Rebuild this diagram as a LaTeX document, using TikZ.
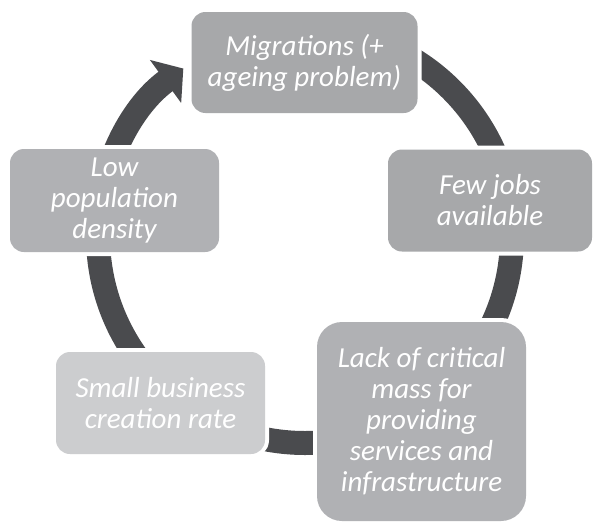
\documentclass[tikz,border=0pt]{standalone}
\usepackage{fontspec}
\usepackage{tikz}
\usetikzlibrary{arrows.meta}
\newfontfamily\cyclefont{Carlito}

\definecolor{ringgray}{RGB}{74,75,78}
\definecolor{midgray}{RGB}{167,168,170}
\definecolor{softgray}{RGB}{176,177,180}
\definecolor{palegray}{RGB}{204,205,207}

\begin{document}
\begin{tikzpicture}[x=1pt, y=1pt,
                    every node/.style={font=\cyclefont\itshape\fontsize{29}{31}\selectfont,
                                       text=white, align=center, inner sep=0pt},
                    box/.style={rounded corners=14pt, fill=midgray,
                                preaction={draw=white, line width=8pt}},
                    ring/.style={draw=ringgray, line width=24pt,
                                 -{Triangle[width=52pt,length=22pt]}}]
    %\draw[help lines] (0,-522) grid (593,0);
   \useasboundingbox (0,0) rectangle (593,-522);

   % the cycle arrow, under the boxes
   \coordinate (hub) at (305,-236);
   \draw[ring] (hub) ++(90:207) arc[start angle=90, end angle=-234, radius=207];

   \node[box, minimum width=226pt, minimum height=101pt] (migrations) at (304.5,-62.5)
        {Migrations (+\\ageing problem)};
   \node[box, minimum width=204pt, minimum height=102pt] (jobs) at (490,-200.5)
        {Few jobs\\available};
   \node[box, fill=softgray, rounded corners=25pt, minimum width=209pt, minimum height=199pt]
        (mass) at (421.5,-421.5)
        {Lack of critical\\mass for\\providing\\services and\\infrastructure};
   \node[box, fill=palegray, minimum width=209pt, minimum height=102pt] (business) at (160.5,-403)
        {Small business\\creation rate};
   \node[box, fill=softgray, minimum width=209pt, minimum height=103pt] (density) at (114.5,-200.5)
        {Low\\population\\density};

\end{tikzpicture}
\end{document}
